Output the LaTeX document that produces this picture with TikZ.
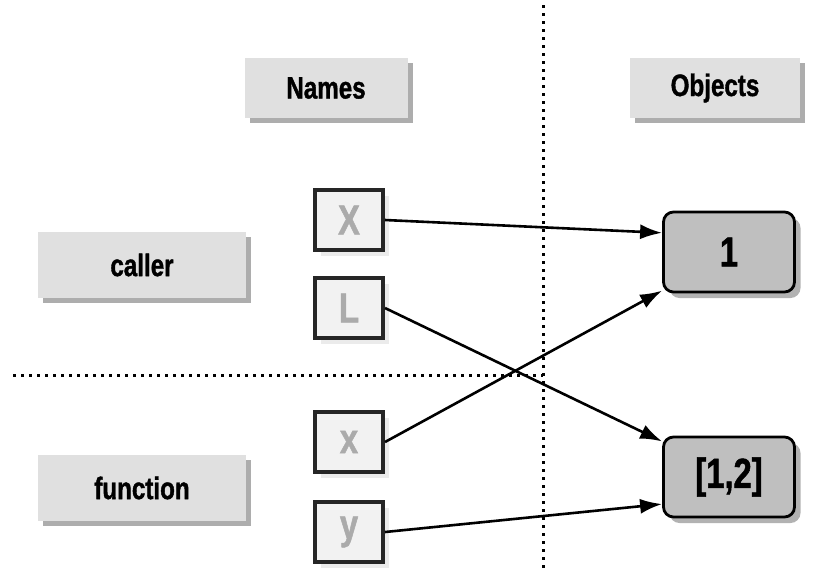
\documentclass[tikz,border=0pt]{standalone}
\usepackage{fontspec}
\setmainfont{Liberation Sans}[FakeStretch=0.78, BoldFeatures={FakeBold=1.2}]
\usepackage{tikz}
\usetikzlibrary{shadows}
\usetikzlibrary{arrows.meta}

\begin{document}
\begin{tikzpicture}[x=0.5pt,y=-0.5pt,
        labelbox/.style={fill=black!12, minimum height=30pt, font=\fontsize{15.5}{18}\selectfont\bfseries,
            drop shadow={shadow xshift=2.5pt, shadow yshift=-2.5pt, fill=black!32, opacity=1}},
        namebox/.style={draw=black!85, line width=2pt, fill=black!5, minimum width=34pt, minimum height=30pt,
            text=black!33, font=\fontsize{21}{24}\selectfont\bfseries,
            drop shadow={shadow xshift=3pt, shadow yshift=-3pt, fill=black!8, opacity=1}},
        objbox/.style={draw=black, line width=1.4pt, fill=black!25, rounded corners=5pt, minimum width=65.5pt, minimum height=40pt,
            font=\fontsize{21}{24}\selectfont\bfseries,
            drop shadow={shadow xshift=3pt, shadow yshift=-3pt, fill=black, opacity=0.3}},
        ref/.style={line width=1.3pt, -{Latex[length=11pt,width=7.5pt]}}]
    \useasboundingbox (0,0) rectangle (828,569); % keeps the page at the reference size

    % the two dotted dividers
    \draw[line width=1.5pt, dash pattern=on 1.5pt off 2.5pt] (543,5) -- (543,569);
    \draw[line width=1.5pt, dash pattern=on 1.5pt off 2.5pt] (13,375) -- (543,375);

    % column and row headings
    \node[labelbox, minimum width=81.5pt] (names) at (326,88) {Names};
    \node[labelbox, minimum width=85pt] (objects) at (715,88) {Objects};
    \node[labelbox, minimum width=104pt, minimum height=33pt] (caller) at (142,265) {caller};
    \node[labelbox, minimum width=104pt, minimum height=33pt] (function) at (142,488) {function};

    % names
    \node[namebox] (X) at (349,220) {X};
    \node[namebox] (L) at (349,308) {L};
    \node[namebox] (x) at (349,442) {x};
    \node[namebox] (y) at (349,532) {y};

    % objects
    \node[objbox] (one) at (729,252) {1};
    \node[objbox] (list) at (729,477) {[1,2]};

    % references
    \draw[ref] (X.east) -- (one.164);
    \draw[ref] (L.east) -- (list.152);
    \draw[ref] (x.east) -- (one.210);
    \draw[ref] (y.east) -- (list.202);
\end{tikzpicture}
\end{document}
